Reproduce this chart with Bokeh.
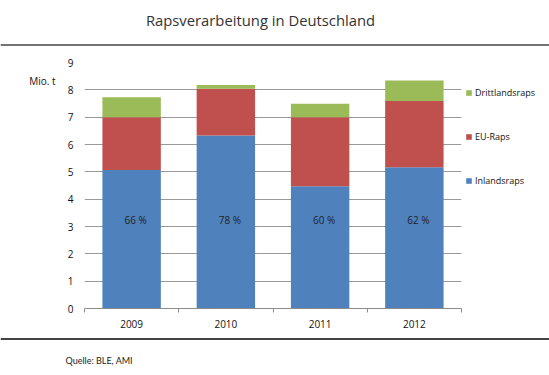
from bokeh.plotting import figure
from bokeh.layouts import column, row
from bokeh.models import (Range1d, FixedTicker, Label, Span, Legend, LegendItem,
                          ColumnDataSource, LinearAxis)
from bokeh.core.properties import value
from bokeh.embed import file_html
from bokeh.resources import INLINE

# ---- data ----
years = ["2009", "2010", "2011", "2012"]
inlandsraps = [5.07, 6.33, 4.47, 5.17]
eu_raps = [1.93, 1.71, 2.53, 2.42]
drittlandsraps = [0.73, 0.14, 0.49, 0.75]
shares = ["66 %", "78 %", "60 %", "62 %"]
y_ticks = [0, 1, 2, 3, 4, 5, 6, 7, 8, 9]
series = ["Inlandsraps", "EU-Raps", "Drittlandsraps"]
colors = ["#4F81BD", "#C0504D", "#9BBB59"]
title_text = "Rapsverarbeitung in Deutschland"
unit_text = "Mio. t"
source_text = "Quelle: BLE, AMI"

FONT = "Open Sans"
W = 549
H_TOP, H_MID, H_BOT = 50, 285, 40
W_CHART = 463
W_LEG = W - W_CHART


def blank(w, h):
    f = figure(width=w, height=h, output_backend="svg", toolbar_location=None,
               x_range=Range1d(0, w), y_range=Range1d(h, 0),
               x_axis_location=None, y_axis_location=None, min_border=0)
    f.grid.visible = False
    f.outline_line_color = None
    f.border_fill_color = "white"
    return f


# ---- header ----
top = blank(W, H_TOP)
top.add_layout(Label(x=260, y=19, text=title_text, text_align="center",
                     text_baseline="middle", text_font=FONT, text_font_size="14.8px",
                     text_color="#333333"))
top.add_layout(Span(location=44.5, dimension="width", line_color="#444444",
                    line_width=1.5))

# ---- chart ----
xs = [i + 0.5 for i in range(len(years))]
src = ColumnDataSource(dict(x=xs, Inlandsraps=inlandsraps, **{"EU-Raps": eu_raps},
                            Drittlandsraps=drittlandsraps, share=shares,
                            ylab=[3.25] * len(years)))

p = figure(width=W_CHART, height=H_MID, output_backend="svg", toolbar_location=None,
           x_range=Range1d(0, len(years)), y_range=Range1d(0, 9),
           min_border_left=84, min_border_right=2, min_border_top=12,
           min_border_bottom=27)
p.outline_line_color = None
p.border_fill_color = "white"

renderers = p.vbar_stack(series, x="x", width=0.62, source=src, color=colors,
                         line_color=None)

p.text(x="x", y="ylab", text="share", source=src, text_align="center",
       text_baseline="middle", text_font=value(FONT), text_font_size="10px",
       text_color="#222222", x_offset=4)

p.yaxis.ticker = FixedTicker(ticks=y_ticks)
p.yaxis.axis_line_color = None
p.yaxis.major_tick_line_color = None
p.yaxis.major_tick_out = 0
p.yaxis.minor_tick_line_color = None
p.yaxis.major_label_standoff = 11
p.yaxis.major_label_text_font = FONT
p.yaxis.major_label_text_font_size = "10px"
p.yaxis.major_label_text_color = "#111111"

# unit label, placed as an extra left axis with a single tick
unit_axis = LinearAxis(ticker=FixedTicker(ticks=[8.33]),
                       major_label_overrides={8.33: unit_text},
                       axis_line_color=None, major_tick_line_color=None,
                       major_tick_out=0, minor_tick_line_color=None,
                       major_label_standoff=9, major_label_text_font=FONT,
                       major_label_text_font_size="10px",
                       major_label_text_color="#111111")
p.add_layout(unit_axis, "left")

p.xaxis.ticker = FixedTicker(ticks=xs, minor_ticks=list(range(len(years) + 1)))
p.xaxis.major_label_overrides = {x: y for x, y in zip(xs, years)}
p.xaxis.axis_line_color = "#8c8c8c"
p.xaxis.major_tick_line_color = None
p.xaxis.major_tick_out = 0
p.xaxis.minor_tick_line_color = "#8c8c8c"
p.xaxis.minor_tick_in = 0
p.xaxis.minor_tick_out = 4
p.xaxis.major_label_standoff = 7
p.xaxis.major_label_text_font = FONT
p.xaxis.major_label_text_font_size = "10px"
p.xaxis.major_label_text_color = "#111111"

p.xgrid.visible = False
p.ygrid.ticker = FixedTicker(ticks=y_ticks)
p.ygrid.grid_line_color = "#999999"
p.ygrid.grid_line_width = 1

# ---- legend panel (right of chart) ----
lg = blank(W_LEG, H_MID)
proxies = [lg.vbar(x="x", top=name, source=src, width=0.62, color=c,
                   line_color=None, visible=False)
           for name, c in zip(series, colors)]
items = [LegendItem(label=name, renderers=[r]) for name, r in zip(series, proxies)]
legend = Legend(items=items[::-1], location=(2, 121), padding=0, margin=0,
                glyph_width=7, glyph_height=7, label_height=14, label_standoff=3,
                spacing=30, label_text_font=FONT, label_text_font_size="9px",
                label_text_color="#111111", border_line_color=None,
                background_fill_alpha=0)
lg.add_layout(legend)

# ---- footer ----
bot = blank(W, H_BOT)
bot.add_layout(Span(location=3.5, dimension="width", line_color="#444444",
                    line_width=2))
bot.add_layout(Label(x=65, y=25, text=source_text, text_align="left",
                     text_baseline="middle", text_font="Lato",
                     text_font_size="9px", text_color="#222222"))

layout = column(top, row(p, lg, spacing=0), bot, spacing=0)
open("out.html", "w").write(file_html(layout, INLINE))
